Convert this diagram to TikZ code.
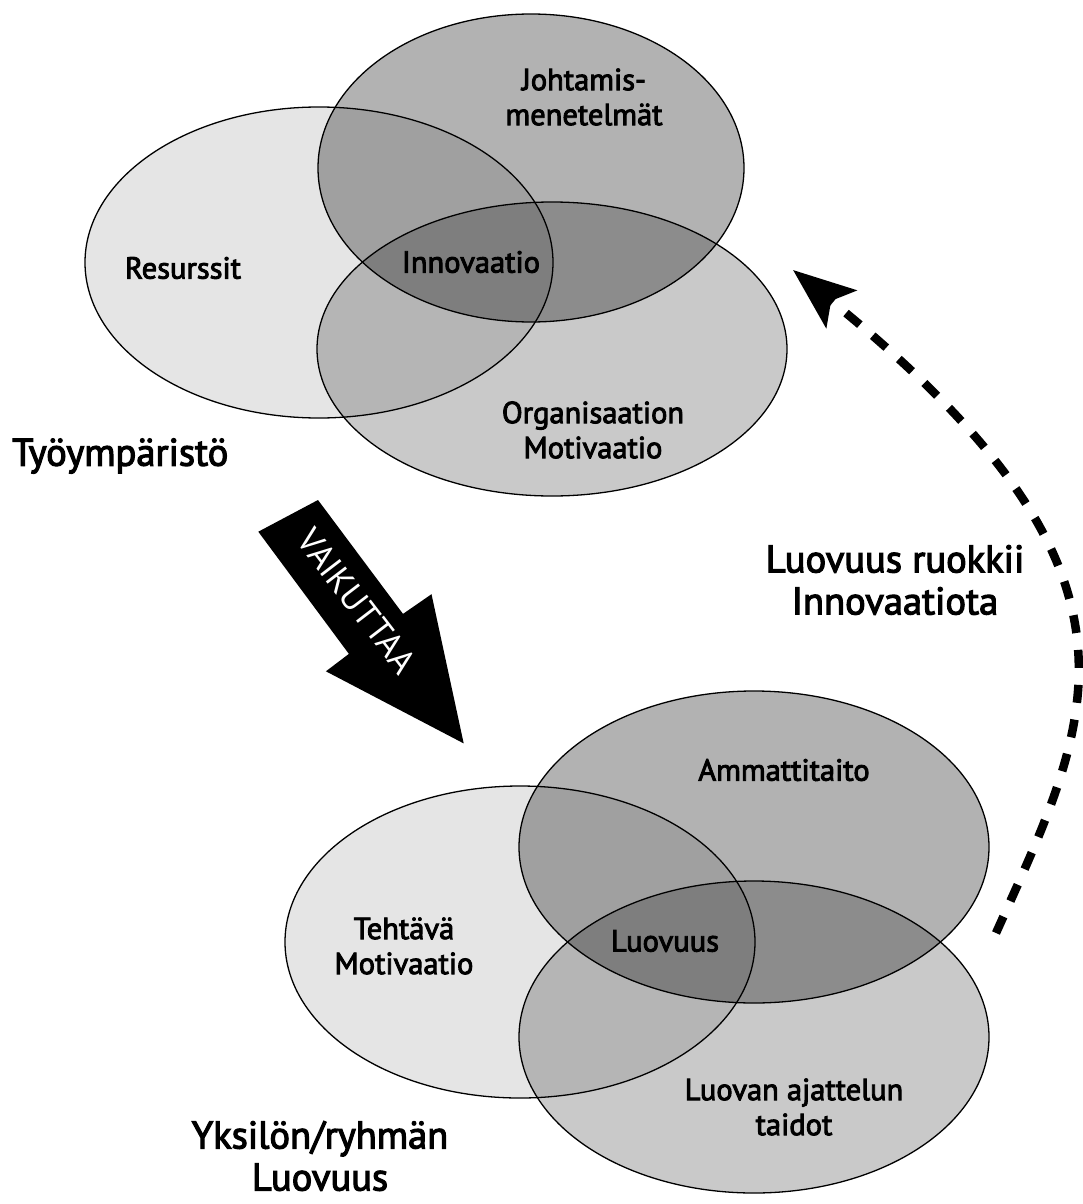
\documentclass[tikz,border=0pt]{standalone}
\usepackage{fontspec}
\setmainfont{PT Sans}
\newfontfamily\medfont{PT Sans}[FakeBold=3]
\usetikzlibrary{shapes.geometric,arrows.meta}
\begin{document}
\begin{tikzpicture}[x=1pt,y=-1pt,
  venn/.style={ellipse, inner sep=0pt, outer sep=0pt, draw=black, line width=1.3pt, fill=black},
  lightv/.style={venn, fill opacity=0.10},
  darkv/.style={venn, fill opacity=0.30},
  midv/.style={venn, fill opacity=0.21},
  lbl/.style={font=\medfont\fontsize{30.5}{35}\selectfont, align=center, inner sep=0pt},
  biglbl/.style={font=\medfont\fontsize{38.5}{42}\selectfont, align=center, inner sep=0pt},
  feed/.style={line width=8.5pt, dash pattern=on 18pt off 17pt, -{Stealth[length=62pt,width=48pt,inset=13pt]}}
]
\useasboundingbox (0,0) rectangle (1082,1204);
% top group
\node[lightv, minimum width=468pt, minimum height=311pt] (res) at (319,262.5) {};
\node[darkv, minimum width=426pt, minimum height=308pt] (joh) at (531,168) {};
\node[midv, minimum width=470pt, minimum height=294pt] (org) at (552,349) {};
% bottom group
\node[lightv, minimum width=470pt, minimum height=312pt] (teh) at (520,942) {};
\node[darkv, minimum width=470pt, minimum height=312pt] (amm) at (754,847) {};
\node[midv, minimum width=470pt, minimum height=312pt] (luo) at (754,1037) {};
% labels
\node[lbl] (tjoh) at (584,97) {Johtamis-\\menetelmät};
\node[lbl] (tres) at (183,268) {Resurssit};
\node[lbl] (tinn) at (471,262) {Innovaatio};
\node[lbl] (torg) at (593,430) {Organisaation\\Motivaatio};
\node[biglbl, anchor=west] (tyo) at (12,456) {Työympäristö};
\node[lbl] (tamm) at (784,770) {Ammattitaito};
\node[lbl] (tteh) at (404,946) {Tehtävä\\Motivaatio};
\node[lbl] (tluo) at (665,941) {Luovuus};
\node[lbl] (tlua) at (794,1107) {Luovan ajattelun\\taidot};
\node[biglbl] (yks) at (320,1156) {Yksilön/ryhmän\\Luovuus};
\node[biglbl] (ruo) at (895,580) {Luovuus ruokkii\\Innovaatiota};
% black arrow
\fill[black] (258.3,531.7) -- (318,500) -- (403,613.9) -- (431.5,594.2)
  -- (463.7,743.4) -- (325.9,671.3) -- (348.9,653.9) -- cycle;
\node[font=\fontsize{35}{38}\selectfont, text=white, rotate=-52.5, inner sep=0pt] (vai) at (357,601) {VAIKUTTAA};
% dashed feedback arrow
\coordinate (fs) at (996,933);
\coordinate (fe) at (793,270);
\draw[feed] (fs) .. controls (1093.7,715.6) and (1170,575) .. (fe);
\end{tikzpicture}
\end{document}
